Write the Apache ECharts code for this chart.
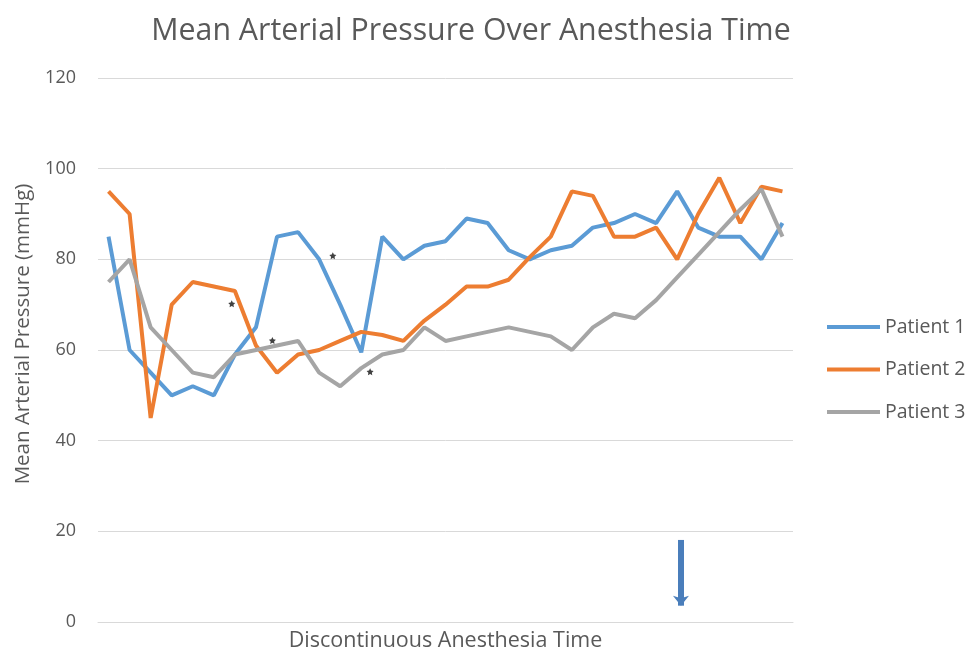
<!DOCTYPE html>
<html>
<head>
<meta charset="utf-8">
<script src="https://cdn.jsdelivr.net/npm/echarts@6/dist/echarts.min.js"></script>
<style>
html,body{margin:0;padding:0;background:#fff;}
#chart{width:966px;height:654px;}
</style>
</head>
<body>
<div id="chart"></div>
<script>
// ---- data ----
var categories = ['1','2','3','4','5','6','7','8','9','10','11','12','13','14','15','16','17','18','19','20','21','22','23','24','25','26','27','28','29','30','31','32','33'];
var seriesNames = ['Patient 1', 'Patient 2', 'Patient 3'];
var patient1 = [85, 60, 55, 50, 52, 50, 59, 65, 85, 86, 80, 70, 59.5, 85, 80, 83, 84, 89, 88, 82, 80, 82, 83, 87, 88, 90, 88, 95, 87, 85, 85, 80, 88];
var patient2 = [95, 90, 45, 70, 75, 74, 73, 61, 55, 59, 60, 62, 64, 63.3, 62, 66.5, 70, 74, 74, 75.5, 80.5, 85, 95, 94, 85, 85, 87, 80, 90, 98, 88, 96, 95];
var patient3 = [75, 80, 65, 60, 55, 54, 59, 60, 61, 62, 55, 52, 56, 59, 60, 65, 62, 63, 64, 65, 64, 63, 60, 65, 68, 67, 71, 76, 81, 86, 91, 95.5, 85];
// significance asterisks: [fractional category position, value]
var asterisks = [[5.85, 70.2], [7.78, 62.1], [10.65, 80.8], [12.42, 55.2]];
// arrow marker: position on category scale, top value, bottom value
var arrowX = 27.18;
var arrowTop = 18.1;
var arrowBottom = 3.6;
var yTicks = {min: 0, max: 120, interval: 20};

var colors = ['#5b9bd5', '#ed7d31', '#a5a5a5'];
var font = '"Open Sans", "Noto Sans", sans-serif';
var textColor = '#595959';

var chart = echarts.init(document.getElementById('chart'), null, {renderer: 'canvas'});
var option = {
  animation: false,
  backgroundColor: '#ffffff',
  textStyle: {fontFamily: font},
  title: {
    text: 'Mean Arterial Pressure Over Anesthesia Time',
    left: 466, textAlign: 'center', top: 11,
    textStyle: {fontFamily: font, fontSize: 30.3, fontWeight: 'normal', color: textColor}
  },
  legend: {
    orient: 'vertical',
    left: 822, top: 311,
    itemWidth: 53, itemHeight: 4, itemGap: 20.5,
    icon: 'rect',
    data: seriesNames,
    textStyle: {fontFamily: font, fontSize: 19.5, color: textColor, lineHeight: 22}
  },
  grid: {left: 98, right: 173, top: 78, bottom: 32, containLabel: false, outerBoundsMode: 'none'},
  xAxis: [{
    type: 'category',
    data: categories,
    boundaryGap: true,
    name: 'Discontinuous Anesthesia Time',
    nameLocation: 'middle',
    nameGap: 8,
    nameTextStyle: {fontFamily: font, fontSize: 21.5, color: textColor},
    axisLine: {show: true, lineStyle: {color: '#d9d9d9', width: 1}},
    axisTick: {show: false},
    axisLabel: {show: false},
    splitLine: {show: false}
  }, {
    type: 'value',
    min: -0.5, max: 32.5,
    show: false
  }],
  yAxis: {
    type: 'value',
    min: yTicks.min, max: yTicks.max, interval: yTicks.interval,
    name: 'Mean Arterial Pressure (mmHg)',
    nameLocation: 'middle',
    nameGap: 64,
    nameRotate: 90,
    nameTextStyle: {fontFamily: font, fontSize: 20.5, color: textColor, padding: [0, 0, 0, 32]},
    axisLine: {show: false},
    axisTick: {show: false},
    axisLabel: {fontFamily: font, fontSize: 18, color: textColor, margin: 22},
    splitLine: {show: true, lineStyle: {color: '#d9d9d9', width: 1}}
  },
  series: [
    {name: seriesNames[0], type: 'line', data: patient1, symbol: 'none', showSymbol: false,
     lineStyle: {width: 4, color: colors[0]}, itemStyle: {color: colors[0]}},
    {name: seriesNames[1], type: 'line', data: patient2, symbol: 'none', showSymbol: false,
     lineStyle: {width: 4, color: colors[1]}, itemStyle: {color: colors[1]}},
    {name: seriesNames[2], type: 'line', data: patient3, symbol: 'none', showSymbol: false,
     lineStyle: {width: 4, color: colors[2]}, itemStyle: {color: colors[2]}},
    {name: 'asterisk', type: 'scatter', xAxisIndex: 1, yAxisIndex: 0,
     data: asterisks,
     symbol: 'path://M0,-10 L2.9,-4 L9.5,-3.1 L4.7,1.5 L5.9,8.1 L0,5 L-5.9,8.1 L-4.7,1.5 L-9.5,-3.1 L-2.9,-4 Z',
     symbolSize: 7,
     itemStyle: {color: '#111111'},
     silent: true,
     markLine: {
       silent: true,
       symbol: ['none', 'arrow'],
       symbolSize: [12, 10],
       label: {show: false},
       lineStyle: {color: '#4a7ebb', width: 6, type: 'solid'},
       data: [[{coord: [arrowX, arrowTop]}, {coord: [arrowX, arrowBottom]}]]
     }}
  ]
};
chart.setOption(option);
</script>
</body>
</html>
